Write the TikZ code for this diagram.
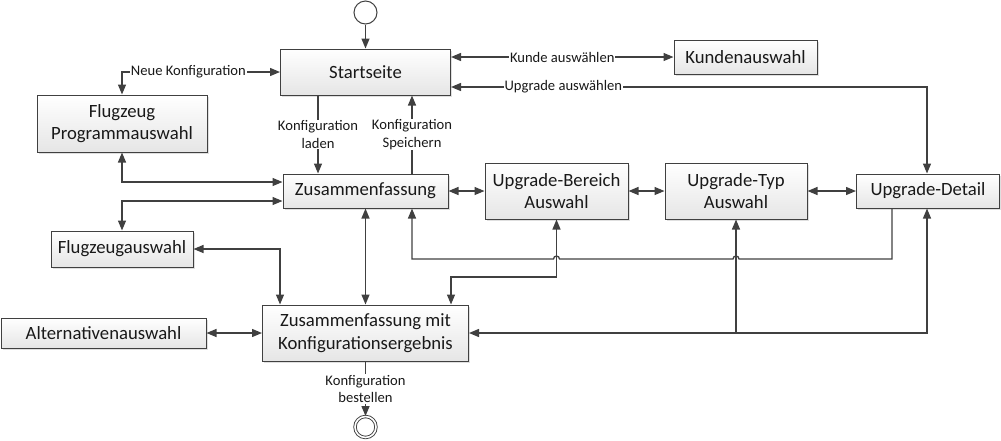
\documentclass[tikz,border=0pt]{standalone}
\usepackage{fontspec}
\setmainfont{Carlito}
\usetikzlibrary{arrows.meta,shadows,calc}
\definecolor{ln}{HTML}{404040}
\begin{document}
\begin{tikzpicture}[x=1pt,y=-1pt,
  box/.style={draw=ln, line width=1pt, rectangle, inner sep=0pt, align=center,
    top color=white, bottom color=gray!20, text=black!90,
    font=\fontsize{18.7}{22.7}\selectfont,
    drop shadow={shadow xshift=1.5pt, shadow yshift=-1.5pt, opacity=0.25, fill=gray}},
  lbl/.style={fill=white, inner sep=1pt, align=center, text=black!90,
    font=\fontsize{14.6}{17.3}\selectfont},
  conn/.style={draw=ln, line width=1.3pt},
  >={Triangle[length=10pt,width=8pt]}]
\useasboundingbox (0,0) rectangle (1001,440);

% nodes
\node[draw=ln, line width=1pt, circle, minimum size=23pt, inner sep=0pt] (init) at (365.5,12.5) {};
\node[box, minimum width=170pt, minimum height=46pt] (start) at (365.5,72) {Startseite};
\node[box, minimum width=143pt, minimum height=34pt] (kunde) at (745.5,57) {Kundenauswahl};
\node[box, minimum width=170pt, minimum height=57pt] (fpa) at (122,123.5) {Flugzeug\\Programmauswahl};
\node[box, minimum width=165pt, minimum height=34pt] (zus) at (365.5,191) {Zusammenfassung};
\node[box, minimum width=143pt, minimum height=56pt] (ub) at (556.5,191) {Upgrade-Bereich\\Auswahl};
\node[box, minimum width=142pt, minimum height=56pt] (ut) at (736,191) {Upgrade-Typ\\Auswahl};
\node[box, minimum width=143pt, minimum height=34pt] (ud) at (928,191) {Upgrade-Detail};
\node[box, minimum width=142pt, minimum height=36pt] (fa) at (122,249) {Flugzeugauswahl};
\node[box, minimum width=206pt, minimum height=56pt] (zmk) at (365.5,333) {Zusammenfassung mit\\Konfigurationsergebnis};
\node[box, minimum width=205pt, minimum height=30pt] (alt) at (103.5,333) {Alternativenauswahl};
\node[draw=ln, line width=0.9pt, circle, double, double distance=1.6pt, minimum size=21pt, inner sep=0pt] (fin) at (365.5,427) {};

% helper coordinates
\coordinate (xL) at (318,0);
\coordinate (xS) at (412,0);
\coordinate (xF) at (280,0);
\coordinate (xQ) at (451,0);
\coordinate (xD) at (892,0);
\coordinate (xR) at (927,0);
\coordinate (yU) at (0,87);
\coordinate (y1) at (0,182);
\coordinate (y2) at (0,201);
\coordinate (yH) at (0,259);
\coordinate (yB) at (0,277);
\coordinate (h1) at (ut.south |- yH);
\coordinate (h2) at (ub.south |- yH);

% connectors
\draw[conn,->] (init) -- (start);
\draw[conn,<->] (start.west) -| (fpa.north) node[lbl,pos=0.29]{Neue Konfiguration};
\draw[conn,<->] (start.east |- kunde.west) -- (kunde.west) node[lbl,midway]{Kunde auswählen};
\draw[conn,<->] (start.east |- yU) -| (xR |- ud.north) node[lbl,pos=0.118]{Upgrade auswählen};
\draw[conn,->] (xL |- start.south) -- (xL |- zus.north) node[lbl,midway]{Konfiguration\\laden};
\draw[conn,->] (xS |- zus.north) -- (xS |- start.south) node[lbl,midway]{Konfiguration\\Speichern};
\draw[conn,<->] (fpa.south) |- (zus.west |- y1);
\draw[conn,<->] (zus.west |- y2) -| (fa.north);
\draw[conn,<->] (fa.east) -| (xF |- zmk.north);
\draw[conn,<->] (zus.south) -- (zmk.north);
\draw[conn,<->] (alt.east) -- (zmk.west);
\draw[conn,<->] (zus.east) -- (ub.west);
\draw[conn,<->] (ub.east) -- (ut.west);
\draw[conn,<->] (ut.east) -- (ud.west);
\draw[conn,->] (xD |- ud.south) -- (xD |- yH) -- ([xshift=3pt]h1)
   arc[start angle=0, end angle=180, radius=3pt] -- ([xshift=3pt]h2)
   arc[start angle=0, end angle=180, radius=3pt] -- (xS |- yH) -- (xS |- zus.south);
\draw[conn,<->] (xQ |- zmk.north) -- (xQ |- yB) -| (ub.south);
\draw[conn,<->] (zmk.east) -| (xR |- ud.south);
\draw[conn,->] (ut.south |- zmk.east) -- (ut.south);
\draw[conn,->] (zmk.south) -- (fin.north) node[lbl,midway]{Konfiguration\\bestellen};
\end{tikzpicture}
\end{document}
